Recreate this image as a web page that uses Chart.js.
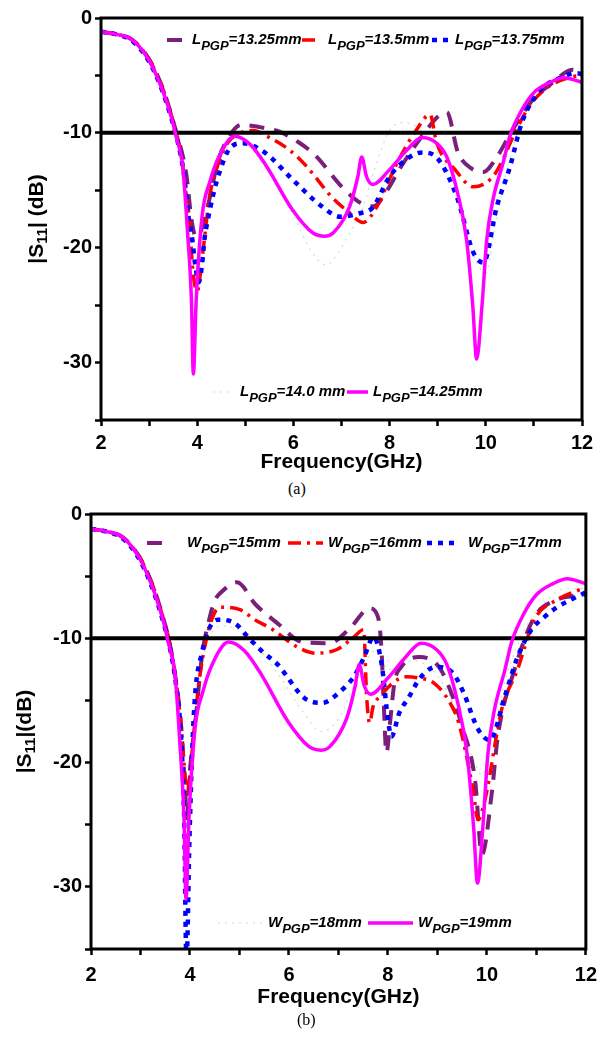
<!DOCTYPE html>
<html>
<head>
<meta charset="utf-8">
<script src="https://cdn.jsdelivr.net/npm/chart.js@4.4.0/dist/chart.umd.min.js"></script>
<style>
  body { margin: 0; background: #fff; width: 605px; height: 1038px; position: relative; overflow: hidden; }
  .box { position: absolute; left: 0; width: 605px; }
  .cap { position: absolute; font: 16px "Liberation Serif", "Times New Roman", serif; color: #000; }
</style>
</head>
<body>
<div class="box" style="top:0;height:478px"><canvas id="chartA" width="605" height="478"></canvas></div>
<div class="cap" style="left:288px;top:480px">(a)</div>
<div class="box" style="top:492px;height:520px"><canvas id="chartB" width="605" height="520"></canvas></div>
<div class="cap" style="left:297px;top:1011px">(b)</div>
<script>
// axis ranges
const freqMin = 2, freqMax = 12;
const dbMin = -35, dbMax = 0;
const refLevel = -10;

// legend texts
const labelsA = ['13.25mm', '13.5mm', '13.75mm', '14.0 mm', '14.25mm'];
const labelsB = ['15mm', '16mm', '17mm', '18mm', '19mm'];

// (a) |S11| vs frequency, [GHz, dB]
const aL1325 = [[2,-1.2],[2.3,-1.4],[2.65,-1.9],[3.0,-3.6],[3.28,-6.1],[3.46,-8.4],[3.58,-10.2],[3.7,-12],[3.78,-13.8],[3.88,-17.5],[3.97,-19],[4.08,-18.5],[4.22,-16.4],[4.43,-12.5],[4.65,-10.4],[4.92,-9.3],[5.3,-9.5],[5.71,-9.9],[6.1,-10.8],[6.44,-11.9],[7.03,-14.8],[7.4,-16.1],[7.66,-16.4],[7.95,-15],[8.2,-13.2],[8.5,-11.3],[8.78,-9.7],[9.0,-8.6],[9.19,-8.2],[9.42,-11.7],[9.7,-13.1],[9.95,-13.4],[10.2,-12.3],[10.56,-9.7],[10.98,-7.1],[11.4,-5.6],[11.8,-4.5],[12,-4.7]];
const aL135 = [[2,-1.2],[2.3,-1.4],[2.65,-1.9],[3.0,-3.6],[3.28,-6.1],[3.46,-8.4],[3.58,-10.2],[3.7,-12.8],[3.78,-15.8],[3.84,-17.6],[3.9,-21.6],[4.0,-23.8],[4.1,-21],[4.26,-15.5],[4.36,-13.7],[4.63,-10.9],[4.9,-10],[5.17,-9.8],[5.5,-10.4],[5.92,-11.5],[6.27,-12.9],[6.8,-15.6],[7.15,-16.9],[7.45,-17.8],[7.74,-16.4],[8.0,-14],[8.22,-12.1],[8.55,-9.8],[8.84,-8.4],[8.98,-10.9],[9.36,-13.2],[9.74,-14.7],[10.13,-13.9],[10.36,-12.3],[10.57,-10.3],[10.92,-7.6],[11.3,-6],[11.82,-5.1],[12,-5]];
const aL1375 = [[2,-1.2],[2.3,-1.4],[2.65,-2.0],[3.0,-3.8],[3.28,-6.4],[3.46,-8.7],[3.58,-10.5],[3.72,-13.5],[3.82,-17.3],[3.88,-18.7],[3.96,-21.5],[4.03,-23],[4.1,-21.5],[4.15,-19.3],[4.22,-17.6],[4.4,-14.3],[4.71,-11.2],[4.95,-10.9],[5.4,-11.7],[5.99,-14.1],[6.59,-16.4],[6.97,-17.3],[7.38,-17],[7.65,-16.5],[8.0,-13.8],[8.35,-12.3],[8.69,-11.7],[9.01,-12.3],[9.4,-15.6],[9.74,-20.4],[9.95,-21.3],[10.23,-16.4],[10.5,-13],[10.75,-9.1],[11.13,-6.3],[11.5,-5.3],[11.9,-4.8],[12,-4.9]];
const aL140 = [[2,-1.2],[2.65,-1.9],[3.0,-3.6],[3.3,-6.4],[3.56,-10],[3.8,-17],[3.95,-22],[4.1,-18],[4.4,-12.2],[4.8,-10.3],[5.3,-11.8],[6.0,-17.2],[6.4,-20.5],[6.68,-21.5],[6.95,-20.3],[7.17,-18.7],[7.4,-17],[7.7,-13],[8.0,-9.8],[8.3,-9.1],[8.6,-9.6],[9.0,-11.8],[9.47,-15.8],[9.6,-18.7],[9.8,-21.2],[10.0,-22.2],[10.2,-18],[10.45,-13],[10.7,-9.5],[11.0,-7.2],[11.5,-5.5],[12,-5.3]];
const aL1425 = [[2,-1.2],[2.3,-1.4],[2.65,-1.9],[3.0,-3.7],[3.28,-6.3],[3.46,-8.6],[3.56,-10.3],[3.7,-13],[3.8,-18.7],[3.88,-24.5],[3.92,-31],[3.98,-24.5],[4.1,-17.3],[4.26,-14.3],[4.46,-12],[4.78,-10.3],[5.1,-11],[5.44,-12.9],[5.98,-16.7],[6.4,-18.7],[6.65,-19],[6.83,-18.7],[7.17,-16.4],[7.34,-13.8],[7.42,-12.1],[7.52,-13.8],[7.65,-14.5],[8.0,-13.2],[8.36,-11.5],[8.67,-10.4],[8.98,-10.9],[9.19,-12.1],[9.4,-15],[9.6,-19.3],[9.73,-25.1],[9.81,-29.7],[9.92,-25.1],[10.02,-19.3],[10.15,-15.8],[10.36,-12.6],[10.5,-10.3],[10.75,-8],[11.0,-6.5],[11.34,-5.6],[11.62,-5.2],[12,-5.6]];

// (b)
const bW15 = [[2,-1.2],[2.3,-1.4],[2.65,-1.9],[3.0,-3.6],[3.28,-6.1],[3.46,-8.4],[3.58,-10.2],[3.72,-13.5],[3.82,-17],[3.9,-22],[3.94,-24.5],[3.98,-21.6],[4.12,-16.3],[4.24,-11.5],[4.4,-8.3],[4.51,-6.9],[4.63,-6.3],[4.95,-5.5],[5.33,-7.3],[5.77,-8.8],[6.27,-10.3],[6.81,-10.4],[7.23,-9.2],[7.63,-7.6],[7.8,-8.3],[7.87,-10.9],[7.91,-14.7],[7.97,-19.2],[8.05,-16.5],[8.13,-13.6],[8.27,-12.3],[8.63,-11.5],[9.03,-12.3],[9.31,-14.7],[9.5,-17.1],[9.76,-21.4],[9.9,-27.4],[10.1,-22.4],[10.22,-17.9],[10.56,-12.5],[10.96,-8.3],[11.42,-6.9],[12,-6.5]];
const bW16 = [[2,-1.2],[2.3,-1.4],[2.65,-1.9],[3.0,-3.6],[3.28,-6.1],[3.46,-8.4],[3.58,-10.2],[3.72,-13.5],[3.82,-17],[3.9,-21],[3.95,-22.5],[4.02,-20],[4.18,-13.6],[4.4,-9],[4.61,-7.5],[5.01,-7.7],[5.31,-8.5],[5.67,-9.3],[6.17,-10.7],[6.53,-11.2],[6.97,-10.9],[7.31,-9.9],[7.51,-9.3],[7.57,-14.7],[7.63,-16.8],[7.7,-15.5],[7.83,-14.7],[8.37,-13.1],[8.63,-13.2],[8.93,-13.6],[9.21,-14.9],[9.43,-16.8],[9.72,-22.2],[9.82,-24.6],[9.96,-23],[10.3,-15.7],[10.62,-12.5],[10.96,-8.5],[11.42,-6.9],[12,-5.9]];
const bW17 = [[2,-1.2],[2.3,-1.4],[2.65,-2.0],[3.0,-3.8],[3.28,-6.4],[3.46,-8.7],[3.58,-10.5],[3.72,-13.8],[3.82,-18],[3.88,-24],[3.93,-36],[3.99,-26],[4.08,-16],[4.24,-11.2],[4.57,-8.5],[4.91,-8.8],[5.17,-9.9],[5.47,-11.1],[5.77,-12.1],[6.31,-14.8],[6.67,-15.2],[7.03,-14.3],[7.31,-13.1],[7.51,-11.6],[7.71,-9.9],[7.87,-12],[8.01,-16.8],[8.07,-17.9],[8.23,-16],[8.43,-14.7],[8.63,-13.3],[8.97,-12.3],[9.31,-12.8],[9.52,-14.3],[9.82,-17.3],[10.06,-18.2],[10.36,-14.7],[10.62,-11.5],[10.9,-9.3],[11.16,-8.3],[11.42,-7.5],[12,-6.3]];
const bW18 = [[2,-1.2],[2.65,-1.9],[3.0,-3.6],[3.3,-6.4],[3.56,-10],[3.8,-17],[3.95,-26],[4.1,-17],[4.3,-11],[4.7,-9],[5.2,-10],[5.8,-13],[6.3,-16],[6.65,-17.5],[7.0,-16.5],[7.4,-13],[7.75,-11],[8.0,-12.5],[8.5,-11.8],[9.0,-13],[9.4,-16],[9.75,-20],[9.9,-21],[10.1,-18],[10.4,-13],[10.8,-9],[11.2,-7],[11.6,-6],[12,-6]];
const bW19 = [[2,-1.2],[2.3,-1.4],[2.65,-1.9],[3.0,-3.7],[3.28,-6.3],[3.46,-8.6],[3.56,-10.3],[3.7,-13],[3.8,-18.7],[3.88,-24.5],[3.92,-31],[3.98,-24.5],[4.1,-17.3],[4.26,-14.3],[4.46,-12],[4.78,-10.3],[5.1,-11],[5.44,-12.9],[5.98,-16.7],[6.4,-18.7],[6.65,-19],[6.83,-18.7],[7.17,-16.4],[7.34,-13.8],[7.42,-12.1],[7.52,-13.8],[7.65,-14.5],[8.0,-13.2],[8.36,-11.5],[8.67,-10.4],[8.98,-10.9],[9.19,-12.1],[9.4,-15],[9.6,-19.3],[9.73,-25.1],[9.81,-29.7],[9.92,-25.1],[10.02,-19.3],[10.15,-15.8],[10.36,-12.6],[10.5,-10.3],[10.75,-8],[11.0,-6.5],[11.34,-5.6],[11.62,-5.2],[12,-5.6]];

// line styles, same order in both panels
const colors = ['#7a1f7a', '#ff0000', '#0000ff', '#c6e4c6', '#ff00ff'];
const dashes = [[15, 10], [13, 6, 3, 6], [5, 6], [2, 5], []];
const widths = [4, 3.5, 4.5, 1.2, 3.5];
const orders = [4, 3, 2, 5, 0];

const FONT = '"Liberation Sans", Arial, sans-serif';
Chart.defaults.font.family = FONT;
Chart.defaults.color = '#000';

function toXY(arr) {
  return arr.map(p => ({ x: p[0], y: p[1] }));
}

function buildDatasets(series, names) {
  let ds = series.map((s, i) => ({
    label: names[i],
    data: toXY(s),
    borderColor: colors[i],
    borderDash: dashes[i],
    borderWidth: widths[i],
    pointRadius: 0,
    cubicInterpolationMode: 'monotone',
    fill: false,
    order: orders[i]
  }));
  // -10 dB reference line
  ds.push({
    label: 'ref',
    data: [{ x: freqMin, y: refLevel }, { x: freqMax, y: refLevel }],
    borderColor: '#000',
    borderWidth: 4,
    pointRadius: 0,
    order: 1
  });
  return ds;
}

function drawYTitle(ctx, chart, cx, tail) {
  let a = chart.chartArea;
  let cy = (a.top + a.bottom) / 2;
  let parts = [['|S', 'bold 21px ' + FONT, 0], ['11', 'bold 15px ' + FONT, 6], [tail, 'bold 21px ' + FONT, 0]];
  let total = 0;
  parts.forEach(p => { ctx.font = p[1]; total += ctx.measureText(p[0]).width; });
  ctx.save();
  ctx.translate(cx, cy);
  ctx.rotate(-Math.PI / 2);
  ctx.fillStyle = '#000';
  ctx.textBaseline = 'middle';
  ctx.textAlign = 'left';
  let x = -total / 2;
  parts.forEach(p => {
    ctx.font = p[1];
    ctx.fillText(p[0], x, p[2]);
    x += ctx.measureText(p[0]).width;
  });
  ctx.restore();
}

function drawLegend(ctx, chart, entries, prefix) {
  entries.forEach(e => {
    let ds = chart.data.datasets[e.ds];
    ctx.save();
    ctx.strokeStyle = ds.borderColor;
    ctx.lineWidth = ds.borderWidth;
    ctx.setLineDash(ds.borderDash);
    ctx.beginPath();
    ctx.moveTo(e.x0, e.y);
    ctx.lineTo(e.x1, e.y);
    ctx.stroke();
    ctx.setLineDash([]);
    ctx.fillStyle = '#000';
    ctx.textBaseline = 'middle';
    ctx.textAlign = 'left';
    let x = e.tx;
    ctx.font = 'italic bold 15px ' + FONT;
    ctx.fillText(prefix, x, e.y);
    x += ctx.measureText(prefix).width;
    ctx.font = 'italic bold 13px ' + FONT;
    ctx.fillText('PGP', x, e.y + 6);
    x += ctx.measureText('PGP').width;
    ctx.font = 'italic bold 15px ' + FONT;
    ctx.fillText('=' + ds.label, x, e.y);
    ctx.restore();
  });
}

function makeChart(id, series, names, cfg) {
  let decor = {
    id: 'decor',
    afterDatasetsDraw(chart) {
      let a = chart.chartArea, ctx = chart.ctx;
      ctx.save();
      ctx.strokeStyle = '#000';
      ctx.lineWidth = 3;
      ctx.strokeRect(a.left, a.top, a.right - a.left, a.bottom - a.top);
      ctx.restore();
    },
    afterDraw(chart) {
      drawYTitle(chart.ctx, chart, cfg.yTitleX, cfg.yTail);
      drawLegend(chart.ctx, chart, cfg.legend, cfg.prefix);
    }
  };

  return new Chart(document.getElementById(id), {
    type: 'line',
    data: { datasets: buildDatasets(series, names) },
    plugins: [decor],
    options: {
      responsive: false,
      animation: false,
      events: [],
      layout: { padding: cfg.padding },
      plugins: { legend: { display: false }, tooltip: { enabled: false } },
      scales: {
        x: {
          type: 'linear',
          min: freqMin,
          max: freqMax,
          afterFit: s => { s.height = cfg.xH; },
          border: { display: false },
          grid: { drawOnChartArea: false, tickLength: 6, tickColor: '#000', tickWidth: 2.5 },
          ticks: {
            stepSize: 1,
            autoSkip: false,
            maxRotation: 0,
            padding: cfg.xPad,
            font: { size: 20, weight: 'bold' },
            callback: v => (v % 2 === 0 ? v : '')
          },
          title: { display: true, text: 'Frequency(GHz)', font: { size: 21, weight: 'bold' }, padding: 0 }
        },
        y: {
          min: dbMin,
          max: dbMax,
          afterFit: s => { s.width = cfg.yW; },
          border: { display: false },
          grid: { drawOnChartArea: false, tickLength: 6, tickColor: '#000', tickWidth: 2.5 },
          ticks: {
            stepSize: 5,
            padding: 3,
            font: { size: 20, weight: 'bold' },
            callback: v => (v % 10 === 0 ? v : '')
          }
        }
      }
    }
  });
}

makeChart('chartA', [aL1325, aL135, aL1375, aL140, aL1425], labelsA, {
  padding: { top: 18, right: 23, bottom: 3, left: 0 },
  xH: 55, yW: 101, xPad: 5,
  yTitleX: 37, yTail: '| (dB)', prefix: 'L',
  legend: [
    { ds: 0, x0: 167, x1: 183, tx: 192, y: 40 },
    { ds: 1, x0: 302, x1: 318, tx: 328, y: 40 },
    { ds: 2, x0: 432, x1: 452, tx: 455, y: 40 },
    { ds: 3, x0: 213, x1: 233, tx: 240, y: 392 },
    { ds: 4, x0: 347, x1: 368, tx: 373, y: 392 }
  ]
});

makeChart('chartB', [bW15, bW16, bW17, bW18, bW19], labelsB, {
  padding: { top: 22, right: 13, bottom: 2, left: 0 },
  xH: 61, yW: 91, xPad: 8,
  yTitleX: 25, yTail: '|(dB)', prefix: 'W',
  legend: [
    { ds: 0, x0: 147, x1: 170, tx: 187, y: 51 },
    { ds: 1, x0: 288, x1: 323, tx: 328, y: 51 },
    { ds: 2, x0: 427, x1: 460, tx: 468, y: 51 },
    { ds: 3, x0: 218, x1: 262, tx: 268, y: 431 },
    { ds: 4, x0: 368, x1: 413, tx: 418, y: 431 }
  ]
});
</script>
</body>
</html>
